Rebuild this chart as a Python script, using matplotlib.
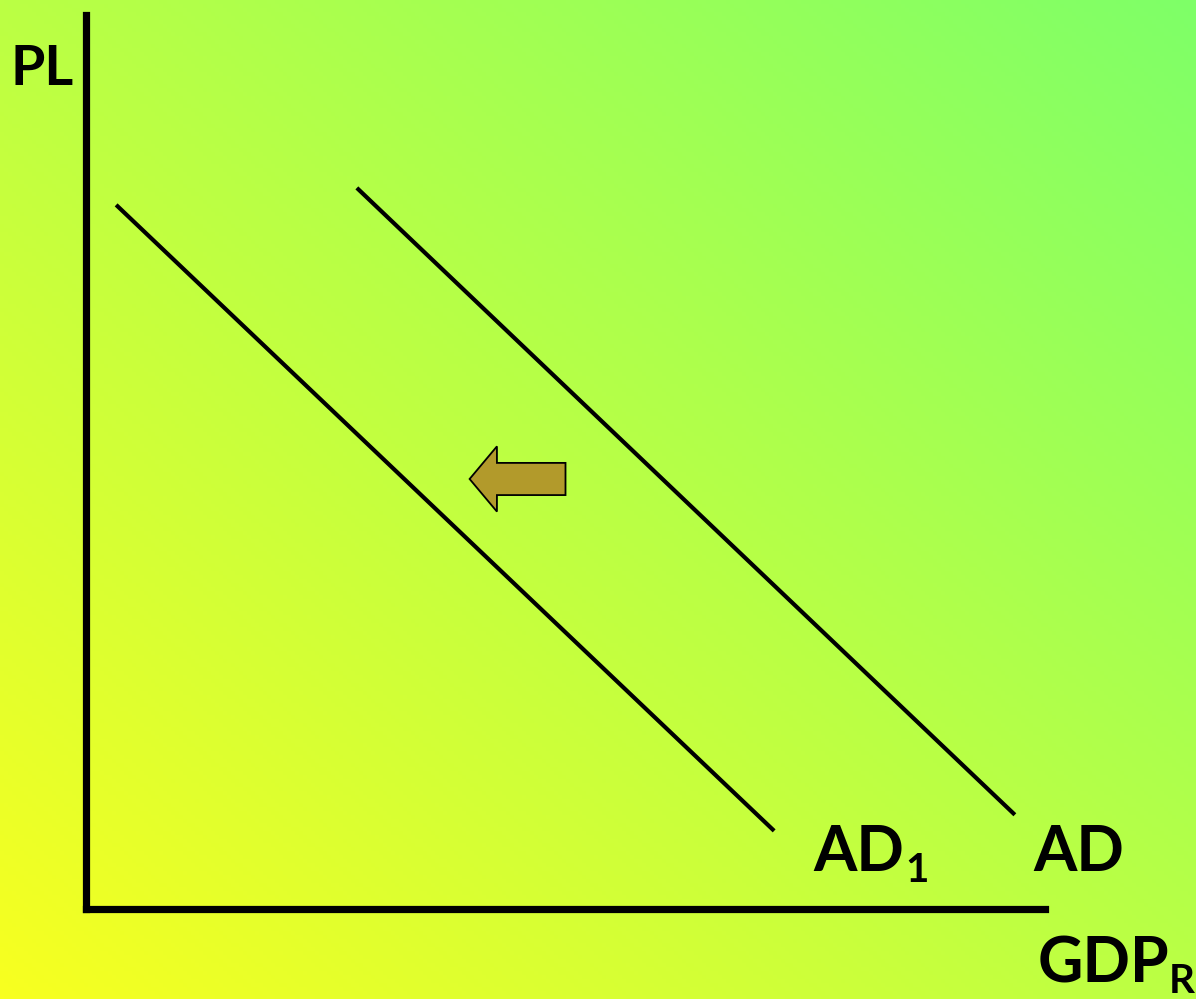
import numpy as np
import matplotlib.pyplot as plt
import matplotlib.patches as mpatches

# demand curves, in axis units (0..100 on both axes)
ad_x = [28.4, 96.7]
ad_y = [80.5, 10.7]
ad1_x = [3.3, 71.6]
ad1_y = [78.6, 8.9]

# leftward shift arrow: tail, tip, level
shift_from = 50.0
shift_to = 40.0
shift_level = 48.1

labels = {"ad": "AD", "ad1": "AD", "ad1_sub": "1",
          "x": "GDP", "x_sub": "R", "y": "PL"}

YELLOW = np.array([248, 255, 32]) / 255
GREEN = np.array([126, 255, 104]) / 255
FONT = "Lato"

fig = plt.figure(figsize=(11.96, 9.99), dpi=100)

# diagonal yellow -> green background
bg = fig.add_axes([0, 0, 1, 1], zorder=0)
gx, gy = np.meshgrid(np.linspace(0, 1, 300), np.linspace(0, 1, 250))
t = (gx + gy) / 2
grad = YELLOW[None, None, :] * (1 - t[..., None]) + GREEN[None, None, :] * t[..., None]
bg.imshow(grad, origin="lower", extent=[0, 1, 0, 1], aspect="auto")
bg.set_axis_off()

W, H = 1196, 999
ax = fig.add_axes([86 / W, (H - 909) / H, (1045 - 86) / W, (909 - 15) / H], zorder=1)
ax.patch.set_alpha(0)
ax.set_xlim(0, 100)
ax.set_ylim(0, 100)
ax.set_xticks([])
ax.set_yticks([])
for side in ("top", "right"):
    ax.spines[side].set_visible(False)
for side in ("left", "bottom"):
    ax.spines[side].set_linewidth(5.2)
    ax.spines[side].set_color("black")
    ax.spines[side].set_capstyle("projecting")

ax.plot(ad1_x, ad1_y, color="black", lw=3, clip_on=False)
ax.plot(ad_x, ad_y, color="black", lw=3, clip_on=False)

arrow = mpatches.FancyArrow(shift_from, shift_level, shift_to - shift_from, 0,
                            width=3.6, head_width=7.3, head_length=2.85,
                            length_includes_head=True,
                            facecolor="#b29a2b", edgecolor="black", lw=1.3)
ax.add_patch(arrow)

txt = dict(fontfamily=FONT, fontweight="bold", color="black", fontsize=45,
           va="baseline", ha="left")
sub = dict(fontfamily=FONT, fontweight="bold", color="black", fontsize=29,
           va="baseline", ha="left", textcoords="offset points")

ax.text(-7.9, 92.2, labels["y"], fontfamily=FONT, fontweight="bold",
        fontsize=40, va="baseline", ha="left")
ad1_lab = ax.text(75.8, 4.3, labels["ad1"], **txt)
ax.annotate(labels["ad1_sub"], xy=(1, 0), xycoords=ad1_lab, xytext=(1, 0), **sub)
ax.text(98.8, 4.3, labels["ad"], **txt)
x_lab = ax.text(99.2, -8.2, labels["x"], **txt)
ax.annotate(labels["x_sub"], xy=(1, 0), xycoords=x_lab, xytext=(0, 0), **sub)

fig.savefig("out.png", dpi=100)
